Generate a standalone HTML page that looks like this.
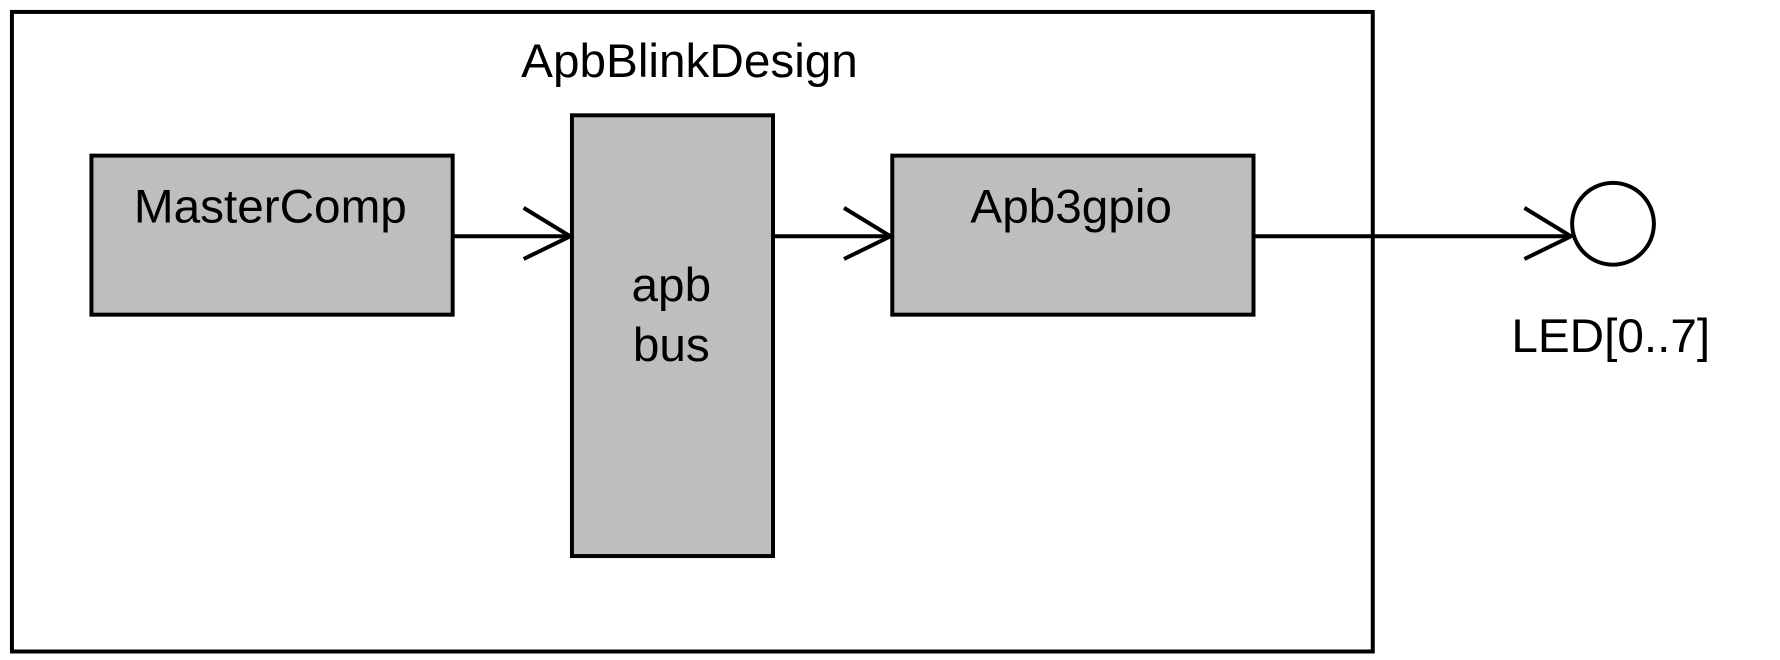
<!DOCTYPE html>
<html><head><meta charset="utf-8"><style>
html,body{margin:0;padding:0;background:#fff;}
svg{display:block;}
text{font-family:"Liberation Sans",Arial,sans-serif;fill:#000;}
</style></head><body>
<svg width="1780" height="660" viewBox="0 0 1567 581" preserveAspectRatio="none" xmlns="http://www.w3.org/2000/svg">
<rect x="10.5" y="10.5" width="1198" height="563" fill="#fff" stroke="#000" stroke-width="3.5"/>
<text x="607" y="68" font-size="42" text-anchor="middle">ApbBlinkDesign</text>
<rect x="80.5" y="137" width="318" height="140" fill="#bebebe" stroke="#000" stroke-width="3.5"/>
<text x="238" y="196" font-size="42" text-anchor="middle">MasterComp</text>
<rect x="503.5" y="101.5" width="177" height="388" fill="#bebebe" stroke="#000" stroke-width="3.5"/>
<text x="591" y="265" font-size="42" text-anchor="middle">apb</text>
<text x="591" y="318" font-size="42" text-anchor="middle">bus</text>
<rect x="785.5" y="137" width="318" height="140" fill="#bebebe" stroke="#000" stroke-width="3.5"/>
<text x="943" y="196" font-size="42" text-anchor="middle">Apb3gpio</text>
<g stroke="#000" stroke-width="3.5" fill="none">
<line x1="398" y1="208" x2="502" y2="208"/>
<polyline points="461,183 502,208 461,228"/>
<line x1="680" y1="208" x2="784" y2="208"/>
<polyline points="743,183 784,208 743,228"/>
<line x1="1103" y1="208" x2="1383" y2="208"/>
<polyline points="1342,183 1383,208 1342,228"/>
<ellipse cx="1420" cy="197" rx="36" ry="36"/>
</g>
<text x="1418" y="310" font-size="42" text-anchor="middle">LED[0..7]</text>
</svg>
</body></html>
